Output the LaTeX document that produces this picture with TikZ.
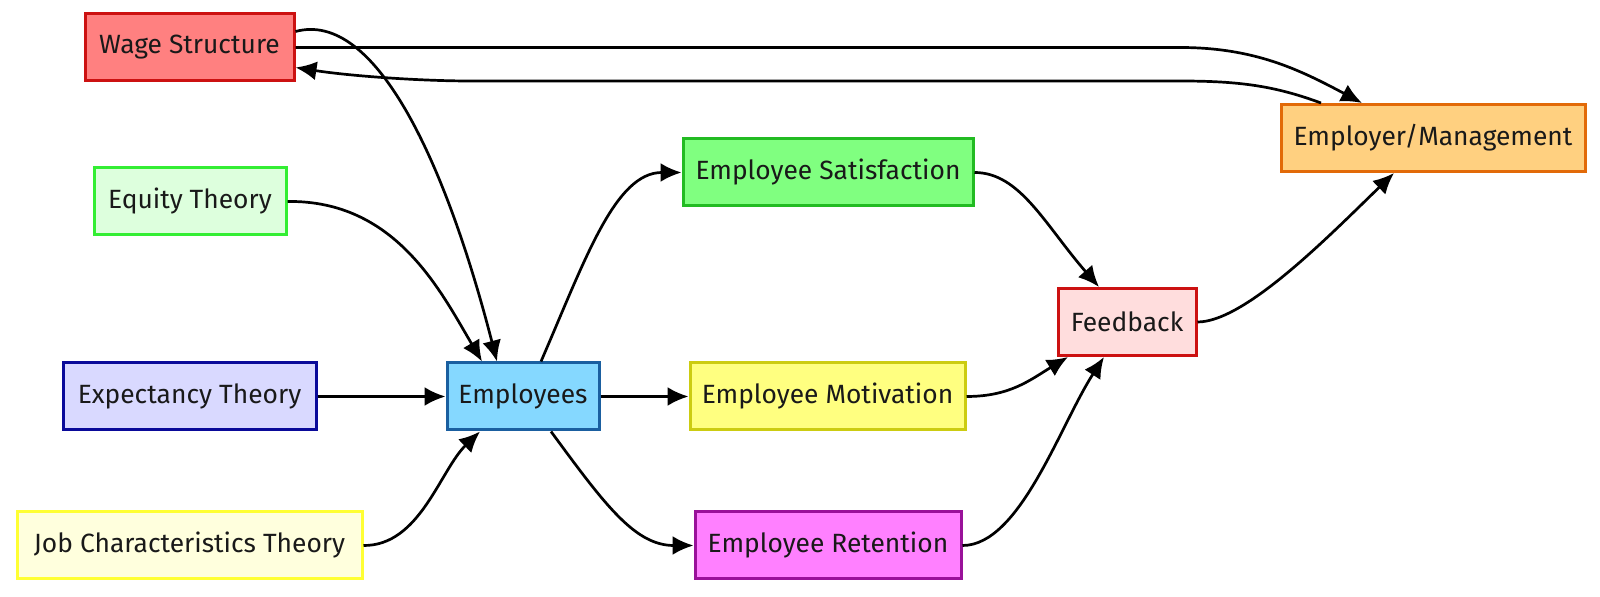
\documentclass[tikz,border=0pt]{standalone}
\usepackage{fontspec}
\setmainfont{Fira Sans}
\usepackage{xcolor}
\usepackage{tikz}
\usetikzlibrary{arrows.meta,positioning,calc}

\definecolor{wagefill}{HTML}{FF8080}
\definecolor{wageline}{HTML}{CC1111}
\definecolor{equityfill}{HTML}{DDFFDD}
\definecolor{equityline}{HTML}{33EE33}
\definecolor{expectfill}{HTML}{D9D9FF}
\definecolor{expectline}{HTML}{0A0A99}
\definecolor{jobfill}{HTML}{FFFFDD}
\definecolor{jobline}{HTML}{FFFF33}
\definecolor{empfill}{HTML}{85D8FF}
\definecolor{empline}{HTML}{1A5FA0}
\definecolor{satfill}{HTML}{80FF80}
\definecolor{satline}{HTML}{22BB22}
\definecolor{motfill}{HTML}{FFFF80}
\definecolor{motline}{HTML}{CCCC11}
\definecolor{retfill}{HTML}{FF80FF}
\definecolor{retline}{HTML}{991199}
\definecolor{feedfill}{HTML}{FFDDDD}
\definecolor{feedline}{HTML}{CC1111}
\definecolor{mgmtfill}{HTML}{FFD080}
\definecolor{mgmtline}{HTML}{E26A08}

\begin{document}
\begin{tikzpicture}[
  x=0.5pt, y=-0.5pt,
  box/.style={draw, line width=1.5pt, align=center, minimum height=33.5pt,
    inner sep=0pt, text=black!90, font=\fontsize{13.2}{16}\selectfont},
  arr/.style={-{Latex[length=10.5pt,width=9.5pt]}, line width=1.35pt}
]
\useasboundingbox (0,0) rectangle (1600,597);
\node[box, fill=wagefill, draw=wageline, minimum width=104.5pt] (wage) at (189.5,47.5) {Wage Structure};
\node[box, fill=equityfill, draw=equityline, minimum width=96pt] (equity) at (190,201.5) {Equity Theory};
\node[box, fill=expectfill, draw=expectline, minimum width=126.5pt] (expect) at (189.5,396.5) {Expectancy Theory};
\node[box, fill=jobfill, draw=jobline, minimum width=172.5pt] (jobchar) at (189.5,545.5) {Job Characteristics Theory};
\node[box, fill=empfill, draw=empline, minimum width=76pt] (emp) at (523,396.5) {Employees};
\node[box, fill=satfill, draw=satline, minimum width=145pt] (satisf) at (828,172.5) {Employee Satisfaction};
\node[box, fill=motfill, draw=motline, minimum width=137.5pt] (motiv) at (827.5,396.5) {Employee Motivation};
\node[box, fill=retfill, draw=retline, minimum width=133pt] (retent) at (828,545.5) {Employee Retention};
\node[box, fill=feedfill, draw=feedline, minimum width=69pt] (feedback) at (1127,322) {Feedback};
\node[box, fill=mgmtfill, draw=mgmtline, minimum width=152pt] (mgmt) at (1433,138) {Employer/Management};
\draw[arr] ([yshift=8pt]wage.east) .. controls (375,10) and (445,160) .. ([xshift=-13pt]emp.north);
\draw[arr] (wage.east) -- (1180,47.5) .. controls (1255,47.5) and (1300,70) .. ([xshift=-35.5pt]mgmt.north);
\draw[arr] ([xshift=-56pt]mgmt.north) .. controls (1275,86) and (1240,81) .. (1180,81) -- (470,81) .. controls (420,81) and (350,76) .. ([yshift=-10pt]wage.east);
\draw[arr] (equity.east) .. controls (395,200) and (440,290) .. ([xshift=-20.5pt]emp.north);
\draw[arr] (expect) -- (emp);
\draw[arr] (jobchar.east) .. controls (420,546) and (440,470) .. ([xshift=-21.5pt]emp.south);
\draw[arr] ([xshift=9pt]emp.north) .. controls (585,260) and (615,172.5) .. (satisf.west);
\draw[arr] (emp) -- (motiv);
\draw[arr] ([xshift=14pt]emp.south) .. controls (605,505) and (635,545.5) .. (retent.west);
\draw[arr] (satisf.east) .. controls (1020,172.5) and (1045,225) .. ([xshift=-14pt]feedback.north);
\draw[arr] (motiv.east) .. controls (1010,396.5) and (1030,380) .. ([xshift=-29.5pt]feedback.south);
\draw[arr] (retent.east) .. controls (1020,545.5) and (1060,425) .. ([xshift=-11.5pt]feedback.south);
\draw[arr] (feedback.east) .. controls (1245,322) and (1330,235) .. ([xshift=-19.5pt]mgmt.south);
\end{tikzpicture}
\end{document}
